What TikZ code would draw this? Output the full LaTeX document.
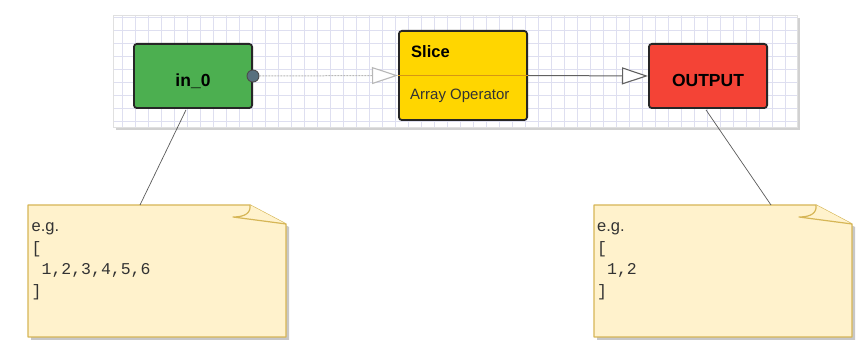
\documentclass[tikz,border=0pt]{standalone}
\usepackage{fontspec}
\setmainfont{Liberation Sans}
\setmonofont{Liberation Mono}
\usetikzlibrary{positioning,arrows.meta,calc}
\definecolor{gridln}{RGB}{222,223,240}
\definecolor{ingreen}{RGB}{76,175,80}
\definecolor{opyellow}{RGB}{255,214,0}
\definecolor{outred}{RGB}{244,67,54}
\definecolor{divln}{RGB}{214,150,20}
\definecolor{portfill}{RGB}{88,112,126}
\definecolor{notefill}{RGB}{255,242,204}
\definecolor{noteedge}{RGB}{214,182,86}
\tikzset{
  blk/.style={draw=black!85,line width=1.8pt,rounded corners=3pt,inner sep=0pt,
    minimum width=118.2pt,minimum height=64.2pt,
    text height=22pt,text depth=0pt,   % drops the label a bit below the middle
    font=\bfseries\fontsize{17.5}{20}\selectfont},
  port/.style={circle,draw=black!70,fill=portfill,line width=0.9pt,
    minimum size=12pt,inner sep=0pt},
  wire/.style={line width=1pt,-{Triangle[length=26pt,width=17pt,fill=white,line width=1.1pt]}},
  lbl/.style={anchor=west,inner sep=0pt},
  pin/.style={line width=0.7pt,black!65},
  memo/.style={draw=noteedge,fill=notefill,line width=1.2pt,line join=round},
  notetxt/.style={anchor=north west,inner sep=0pt,align=left,text=black!80,
    font=\fontsize{16.5}{21.5}\selectfont},
}
\begin{document}
\begin{tikzpicture}[x=1pt,y=-1pt]
  \useasboundingbox (0,0) rectangle (863,352);
  % canvas with grid
  \fill[black!18] (116,18) rectangle (800,130);
  \fill[white] (113,15) rectangle (797,127);
  \foreach \gx in {122.7,135.7,...,797} \draw[gridln,line width=0.6pt] (\gx,15) -- (\gx,127);
  \foreach \gy in {17.7,30.7,...,127} \draw[gridln,line width=0.6pt] (113,\gy) -- (797,\gy);
  \draw[black!12,line width=0.5pt] (113,15) rectangle (797,127);

  % blocks
  \node[blk,fill=ingreen] (in0) at (193,76) {in\_0};
  \node[blk,fill=opyellow,minimum width=128.2pt,minimum height=89.2pt] (slice) at (463,75.5) {};
  \node[blk,fill=outred] (out) at (708,76) {OUTPUT};
  \draw[divln,line width=0.8pt] (slice.west) -- (slice.east);
  \node[lbl,font=\bfseries\fontsize{16.5}{18}\selectfont] (sltitle) at ($(slice.north west)+(13,22)$) {Slice};
  \node[lbl,font=\fontsize{15}{18}\selectfont,text=black!80] (slsub) at ($(slice.south west)+(12,-25)$) {Array Operator};
  \node[port] (p0) at (in0.east) {};

  % connections
  \draw[wire,draw=black!28,dash pattern=on 2pt off 1pt] (p0) -- (slice.west);
  \draw[wire,draw=black!62] (slice.east) -- (out.west);

  % sticky notes with sample data
  \foreach \nm/\nx in {note0/28,note1/594}{
    \begin{scope}[shift={(\nx,205)}]
      \fill[black!22] (3,3) -- (225,3) -- (261,22) -- (261,135) -- (3,135) -- cycle;
      \draw[memo] (0,0) -- (222,0) -- (258,19) -- (258,132) -- (0,132) -- cycle;
      \draw[memo] (222,0) .. controls (223,8) and (217,12) .. (205,12) -- (258,19); % folded corner
      \coordinate (\nm) at (0,0);
    \end{scope}
  }
  \draw[pin] ($(in0.south)+(-7,0.9)$) -- ($(note0)+(112,0)$);
  \draw[pin] ($(out.south)+(-2,0.9)$) -- ($(note1)+(177,0)$);
  \node[notetxt] (txt0) at ($(note0)+(3.5,11.5)$)
    {\strut e.g.\\\texttt{[}\\\texttt{\ 1,2,3,4,5,6}\\\texttt{]}};
  \node[notetxt] (txt1) at ($(note1)+(3,11.5)$)
    {\strut e.g.\\\texttt{[}\\\texttt{\ 1,2}\\\texttt{]}};
\end{tikzpicture}
\end{document}
